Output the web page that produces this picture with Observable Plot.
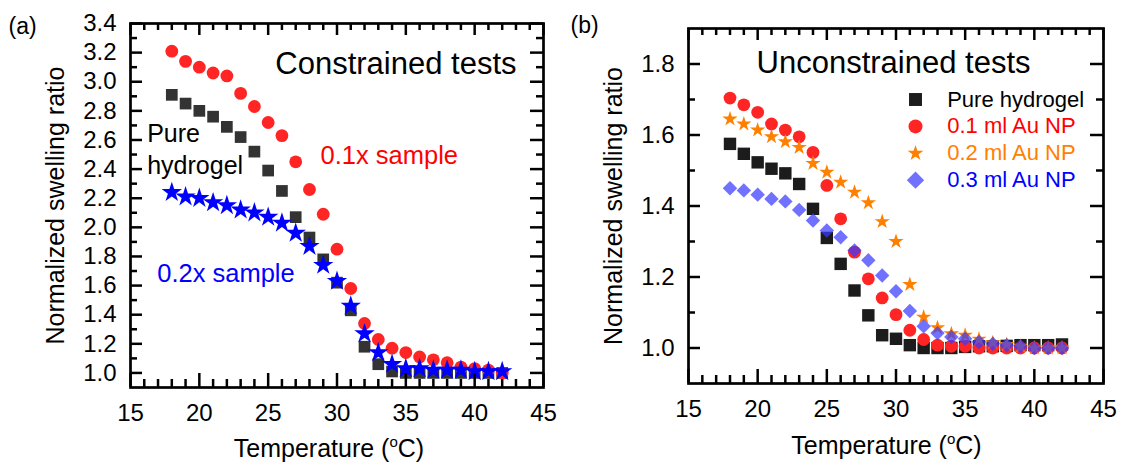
<!DOCTYPE html>
<html><head><meta charset="utf-8">
<script src="https://cdn.jsdelivr.net/npm/d3@7"></script>
<script src="https://cdn.jsdelivr.net/npm/@observablehq/plot@0.6"></script>
<style>
body{margin:0;background:#fff;}
#wrap{position:relative;width:1122px;height:463px;}
#wrap svg{position:absolute;top:0;overflow:visible}
</style></head><body><div id="wrap"></div>
<script>
// ---------------- data ----------------
const temps = [18,19,20,21,22,23,24,25,26,27,28,29,30,31,32,33,34,35,36,37,38,39,40,41,42];

// (a) constrained tests
const aPure = [2.91,2.85,2.80,2.76,2.69,2.62,2.52,2.39,2.25,2.07,1.93,1.78,1.62,1.43,1.18,1.06,1.01,1.00,1.00,1.00,1.00,1.00,1.00,1.00,1.00];
const a01   = [3.21,3.14,3.10,3.06,3.04,2.92,2.83,2.72,2.63,2.45,2.26,2.09,1.85,1.58,1.34,1.23,1.17,1.14,1.11,1.09,1.07,1.04,1.03,1.02,1.00];
const a02   = [2.24,2.21,2.20,2.17,2.15,2.12,2.10,2.07,2.03,1.96,1.87,1.74,1.63,1.46,1.27,1.14,1.06,1.03,1.03,1.02,1.02,1.02,1.01,1.01,1.01];

// (b) unconstrained tests
const bPure = [1.575,1.547,1.523,1.505,1.492,1.462,1.392,1.310,1.237,1.162,1.092,1.036,1.026,1.008,1.000,1.000,1.000,1.003,1.005,1.005,1.006,1.008,1.008,1.008,1.010];
const b01   = [1.704,1.685,1.664,1.631,1.614,1.595,1.551,1.458,1.364,1.270,1.195,1.141,1.094,1.050,1.024,1.008,1.005,1.005,1.000,1.000,1.000,1.000,1.000,1.000,1.000];
const b02   = [1.645,1.631,1.614,1.595,1.581,1.565,1.520,1.495,1.467,1.439,1.409,1.356,1.300,1.179,1.087,1.057,1.040,1.036,1.025,1.015,1.010,1.005,1.000,1.000,1.000];
const b03   = [1.450,1.444,1.432,1.420,1.413,1.389,1.359,1.331,1.312,1.275,1.247,1.204,1.160,1.104,1.061,1.042,1.031,1.026,1.017,1.012,1.008,1.005,1.000,1.000,1.000];

// ticks
const xMajor = [15,20,25,30,35,40,45];
const xMinor = [16,17,18,19,21,22,23,24,26,27,28,29,31,32,33,34,36,37,38,39,41,42,43,44];
const aYMajor = [1.0,1.2,1.4,1.6,1.8,2.0,2.2,2.4,2.6,2.8,3.0,3.2,3.4];
const aYMinor = [1.1,1.3,1.5,1.7,1.9,2.1,2.3,2.5,2.7,2.9,3.1,3.3];
const bYMajor = [1.0,1.2,1.4,1.6,1.8];
const bYMinor = [1.1,1.3,1.5,1.7];

const legendLabels = ["Pure hydrogel","0.1 ml Au NP","0.2 ml Au NP","0.3 ml Au NP"];

// ---------------- drawing ----------------
const W = 561, H = 463;
const FONT = "'Liberation Sans', Arial, Helvetica, sans-serif";
const rows = vals => temps.map((t,i) => ({t, v: vals[i]}));

function panel(cfg) {
  const {ml, mr, mt, mb, yDomain, yMajor, yMinor} = cfg;
  const pw = W - ml - mr, ph = H - mt - mb;
  const tk = o => ({stroke: "black", strokeWidth: 2.5, ...o});
  const marks = [
    ...cfg.series.map(s => Plot.dot(rows(s.values), {
      x: "t", y: "v", symbol: s.symbol, r: s.r, fill: s.fill,
      fillOpacity: s.opacity ?? 1, stroke: "none"
    })),
    Plot.tickX(xMajor, tk({x: d => d, insetTop: ph - 14})),
    Plot.tickX(xMajor, tk({x: d => d, insetBottom: ph - 12})),
    Plot.tickX(xMinor, tk({x: d => d, insetTop: ph - 8})),
    Plot.tickX(xMinor, tk({x: d => d, insetBottom: ph - 7})),
    Plot.tickY(yMajor, tk({y: d => d, insetRight: pw - 12})),
    Plot.tickY(yMajor, tk({y: d => d, insetLeft: pw - 13})),
    Plot.tickY(yMinor, tk({y: d => d, insetRight: pw - 7})),
    Plot.tickY(yMinor, tk({y: d => d, insetLeft: pw - 7})),
    Plot.frame({stroke: "black", strokeWidth: 2.7}),
    Plot.axisX(xMajor, {tickSize: 0, tickPadding: 16, fontSize: 24, label: null}),
    Plot.axisY(yMajor, {tickSize: 0, tickPadding: 14, fontSize: 24, label: null, tickFormat: d3.format(".1f")}),
    Plot.text(["Temperature (oC)"], {frameAnchor: "bottom", dx: cfg.xtDx, dy: cfg.xtDy, lineAnchor: "bottom", textAnchor: "middle", fontSize: 25}),
    Plot.text(["Normalized swelling ratio"], {frameAnchor: "left", dx: -74.5, rotate: -90, textAnchor: "middle", lineAnchor: "middle", fontSize: 25}),
    ...cfg.texts.map(t => Plot.text([t.s], {
      frameAnchor: "top-left", dx: t.dx, dy: t.dy, textAnchor: t.anchor || "start",
      lineAnchor: "bottom", fontSize: t.size, fill: t.color || "black"
    })),
    ...(cfg.legend || []).flatMap((l, i) => [
      Plot.dot([0], {frameAnchor: "top-left", dx: l.sx, dy: l.y0 + i * l.step, symbol: l.symbol, r: l.r, fill: l.fill, fillOpacity: l.opacity ?? 1}),
      Plot.text([l.label], {frameAnchor: "top-left", dx: l.tx, dy: l.y0 + i * l.step, textAnchor: "start", lineAnchor: "middle", fontSize: 22, fill: l.color})
    ])
  ];
  const svg = Plot.plot({
    width: W, height: H,
    marginLeft: ml, marginRight: mr, marginTop: mt, marginBottom: mb,
    x: {domain: [15, 45], label: null},
    y: {domain: yDomain, label: null},
    style: {fontFamily: FONT, fontSize: "24px", color: "black", background: "white", overflow: "visible"},
    marks
  });
  // superscript "o" in the x-axis title
  svg.querySelectorAll("text").forEach(t => {
    if (t.textContent === "Temperature (oC)") {
      t.textContent = "";
      const NS = "http://www.w3.org/2000/svg";
      const a = document.createElementNS(NS, "tspan"); a.textContent = "Temperature (";
      const b = document.createElementNS(NS, "tspan"); b.textContent = "o"; b.setAttribute("dy", "-10"); b.setAttribute("font-size", "15");
      const c = document.createElementNS(NS, "tspan"); c.textContent = "C)"; c.setAttribute("dy", "10");
      t.append(a, b, c);
    }
  });
  return svg;
}

const left = panel({
  ml: 130, mr: 18, mt: 23, mb: 76,
  yDomain: [0.9, 3.4], yMajor: aYMajor, yMinor: aYMinor,
  xtDx: -8, xtDy: 69,
  series: [
    {values: aPure, symbol: "square", r: 6.6, fill: "#333333"},
    {values: a01, symbol: "circle", r: 6.4, fill: "#ff2525"},
    {values: a02, symbol: "star", r: 6.4, fill: "#0000ff"}
  ],
  texts: [
    {s: "(a)", dx: -122, dy: 10, size: 23},
    {s: "Constrained tests", dx: 386, dy: 50, size: 31, anchor: "end"},
    {s: "Pure", dx: 16.7, dy: 118.7, size: 25},
    {s: "hydrogel", dx: 16.7, dy: 150, size: 25},
    {s: "0.1x sample", dx: 190, dy: 140.3, size: 25.5, color: "#ff0000"},
    {s: "0.2x sample", dx: 26.7, dy: 258.7, size: 25.5, color: "#0000ff"}
  ]
});

const legendStyle = [
  {symbol: "square", r: 7.3, fill: "#1c1c1c", color: "#000000"},
  {symbol: "circle", r: 7, fill: "#ff2525", color: "#ff0000"},
  {symbol: "star", r: 5, fill: "#ff8000", color: "#ff8000"},
  {symbol: "diamond2", r: 7.8, fill: "#3a3aff", opacity: 0.72, color: "#0000ff"}
];

const right = panel({
  ml: 127, mr: 19, mt: 28, mb: 80,
  yDomain: [0.9, 1.9], yMajor: bYMajor, yMinor: bYMinor,
  xtDx: -9.5, xtDy: 70,
  series: [
    {values: bPure, symbol: "square", r: 7, fill: "#1c1c1c"},
    {values: b01, symbol: "circle", r: 6.4, fill: "#ff2525"},
    {values: b02, symbol: "star", r: 4.8, fill: "#ff8000"},
    {values: b03, symbol: "diamond2", r: 6.5, fill: "#3a3aff", opacity: 0.72}
  ],
  texts: [
    {s: "(b)", dx: -118, dy: 4.7, size: 23},
    {s: "Unconstrained tests", dx: 342, dy: 44.4, size: 31, anchor: "end"}
  ],
  legend: legendLabels.map((label, i) => ({label, ...legendStyle[i], sx: 227, tx: 258.7, y0: 71, step: 26.9}))
});

left.style.left = "0px";
right.style.left = W + "px";
document.getElementById("wrap").append(left, right);
</script>
</body></html>
